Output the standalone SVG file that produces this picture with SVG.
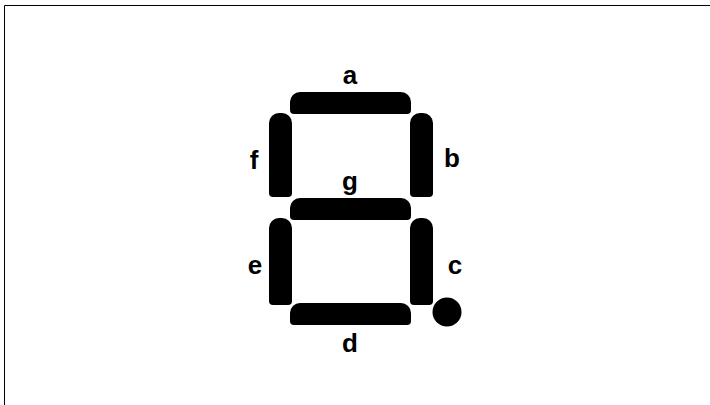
<svg xmlns="http://www.w3.org/2000/svg" width="710" height="405" viewBox="0 0 710 405">
  <style>
    .seg { fill: #000; }
    .lbl { font-family: "Liberation Sans", Arial, sans-serif; font-weight: bold; font-size: 26px; fill: #000; text-anchor: middle; }
    .frame { fill: none; stroke: #000; stroke-width: 1; }
  </style>
  <defs>
    <!-- horizontal bar: rounder top corners, tighter bottom corners -->
    <path id="hbar" d="M10,0 H111 A10,10 0 0 1 121,10 V18 A4,4 0 0 1 117,22 H4 A4,4 0 0 1 0,18 V10 A10,10 0 0 1 10,0 Z"/>
    <path id="vbar84" d="M10,0 H13 A10,10 0 0 1 23,10 V80 A4,4 0 0 1 19,84 H4 A4,4 0 0 1 0,80 V10 A10,10 0 0 1 10,0 Z"/>
    <path id="vbar87" d="M10,0 H13 A10,10 0 0 1 23,10 V83 A4,4 0 0 1 19,87 H4 A4,4 0 0 1 0,83 V10 A10,10 0 0 1 10,0 Z"/>
  </defs>

  <rect width="710" height="405" fill="#fff"/>
  <path class="frame" d="M4.5,405 V5.5 H710"/>

  <g id="seg-a"><use href="#hbar" class="seg" x="290" y="92"/><text class="lbl" x="350" y="84">a</text></g>
  <g id="seg-b"><use href="#vbar84" class="seg" x="410" y="113"/><text class="lbl" x="452" y="167">b</text></g>
  <g id="seg-c"><use href="#vbar87" class="seg" x="410" y="218"/><text class="lbl" x="455" y="274">c</text></g>
  <g id="seg-d"><use href="#hbar" class="seg" x="290" y="303"/><text class="lbl" x="350" y="352">d</text></g>
  <g id="seg-e"><use href="#vbar87" class="seg" x="269" y="218"/><text class="lbl" x="255" y="274">e</text></g>
  <g id="seg-f"><use href="#vbar84" class="seg" x="269" y="113"/><text class="lbl" x="254" y="169">f</text></g>
  <g id="seg-g"><use href="#hbar" class="seg" x="290" y="198"/><text class="lbl" x="350" y="190">g</text></g>
  <g id="seg-dp"><circle class="seg" cx="447" cy="312" r="14.5"/></g>
  <g id="connectors"/>
</svg>
